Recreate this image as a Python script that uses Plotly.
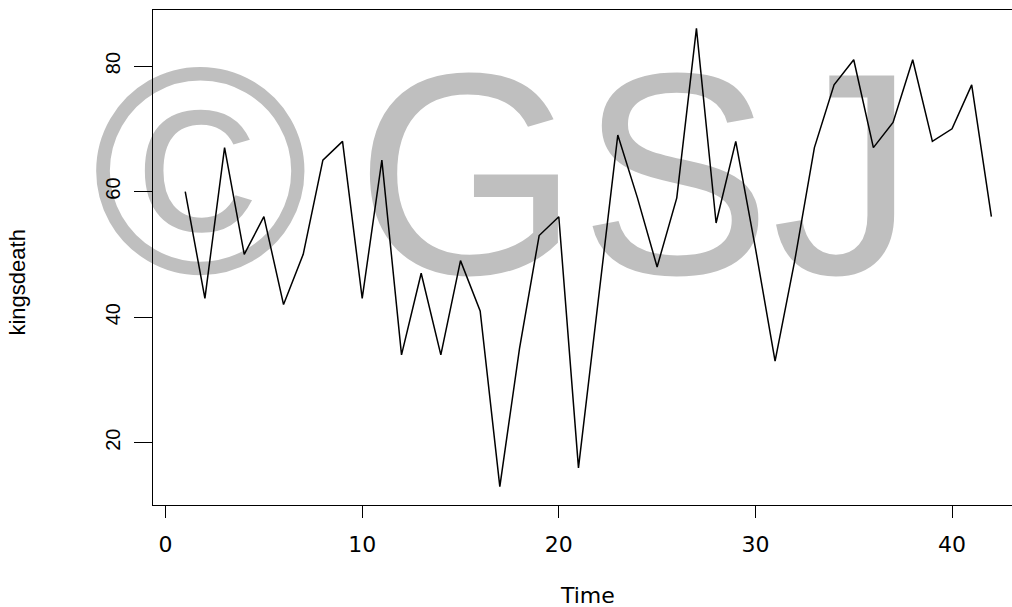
import plotly.graph_objects as go

# Data: age at death of successive kings of England
time_idx = list(range(1, 43))
kingsdeath = [60, 43, 67, 50, 56, 42, 50, 65, 68, 43, 65, 34, 47, 34, 49, 41, 13, 35, 53, 56,
              16, 43, 69, 59, 48, 59, 86, 55, 68, 51, 33, 49, 67, 77, 81, 67, 71, 81, 68, 70,
              77, 56]
x_ticks = [0, 10, 20, 30, 40]
y_ticks = [20, 40, 60, 80]

# Watermark pieces and placement (decoration, in axis units)
wm_text = ["©", "GSJ"]
wm_x = [1.77, 23.9]
wm_y = [58.8, 58.4]
wm_size = [295, 288]

fig = go.Figure()

for t, xx, yy, sz in zip(wm_text, wm_x, wm_y, wm_size):
    fig.add_trace(go.Scatter(
        x=[xx], y=[yy], mode="text", text=[t],
        textposition="middle center",
        textfont=dict(family="Liberation Sans", size=sz, color="#bfbfbf"),
        cliponaxis=False, hoverinfo="skip", showlegend=False))

fig.add_trace(go.Scatter(
    x=time_idx, y=kingsdeath, mode="lines",
    line=dict(color="black", width=1.5),
    showlegend=False, cliponaxis=False))

fig.update_layout(
    width=1012, height=607,
    margin=dict(l=153, r=0, t=10, b=102),
    paper_bgcolor="white", plot_bgcolor="white",
    xaxis=dict(range=[-0.64, 43.05], tickvals=x_ticks, ticktext=[str(v) for v in x_ticks],
               showgrid=False, zeroline=False, showline=True, linecolor="black", linewidth=1,
               mirror=True, ticks="outside", ticklen=12, tickwidth=1, tickcolor="black",
               tickfont=dict(family="DejaVu Sans", size=22, color="black"),
               ticklabelstandoff=8),
    yaxis=dict(range=[10.08, 88.92], tickvals=y_ticks, ticktext=[str(v) for v in y_ticks],
               showgrid=False, zeroline=False, showline=True, linecolor="black", linewidth=1,
               mirror=False, ticks="outside", ticklen=18, tickwidth=1, tickcolor="black",
               tickangle=-90,
               tickfont=dict(family="Liberation Sans", size=20, color="black"),
               ticklabelstandoff=6),
    annotations=[
        dict(text="Time", xref="paper", yref="paper", x=0.506, y=-0.182,
             xanchor="center", yanchor="middle", showarrow=False,
             font=dict(family="DejaVu Sans", size=22, color="black")),
        dict(text="kingsdeath", xref="paper", yref="paper", x=-0.158, y=0.45,
             xanchor="center", yanchor="middle", showarrow=False, textangle=-90,
             font=dict(family="Liberation Sans", size=22, color="black")),
    ],
)

fig.write_html("out.html")
